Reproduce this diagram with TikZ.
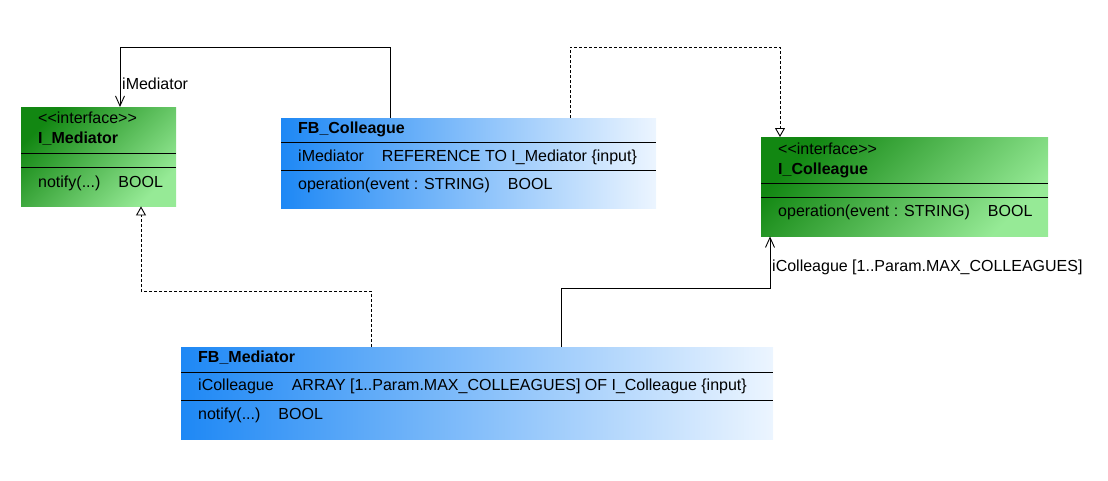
\documentclass[tikz,border=0pt]{standalone}
\usepackage{fontspec}
\setmainfont{Liberation Sans}
\usepackage{tikz}
\usetikzlibrary{calc,arrows.meta,positioning}

\definecolor{IfaceDark}{RGB}{18,135,18}
\definecolor{IfaceLight}{RGB}{150,234,150}
\definecolor{FbLeft}{RGB}{30,136,245}
\definecolor{FbRight}{RGB}{236,245,255}

\begin{document}
\begin{tikzpicture}[x=1pt,y=-1pt,font=\fontsize{16pt}{19pt}\selectfont]

  % Styles
  \tikzstyle{iface}=[anchor=north west,inner sep=0pt,left color=IfaceDark,right color=IfaceLight,shading angle=45]
  \tikzstyle{fb}=[anchor=north west,inner sep=0pt,left color=FbLeft,right color=FbRight]
  \tikzstyle{member}=[anchor=west,inner sep=0pt]
  \tikzstyle{sepline}=[line width=0.9pt]
  \tikzstyle{assoc}=[-{Straight Barb[length=10pt,width=9pt]},line width=0.9pt]
  \tikzstyle{realize}=[-{Triangle[open,length=9pt,width=10pt]},line width=0.9pt,dash pattern=on 3pt off 2pt]

  % \member{<id>}{<box>}{<offset>}{<text>}
  \newcommand{\member}[4]{\node[member] (#1) at ($(#2.north west)+(17,#3)$) {#4};}
  % \sepat{<box>}{<offset>}
  \newcommand{\sepat}[2]{\draw[sepline] ($(#1.north west)+(0,#2)$) -- ($(#1.north east)+(0,#2)$);}
  \newcommand{\tgap}{\hspace{18pt}}

  % ===========================================================================

  \useasboundingbox (0,0) rectangle (1108,480);

  % Draw boxes
  \node[iface,minimum width=155pt,minimum height=99pt] (imed) at (21,107) {};
  \node[fb,minimum width=375pt,minimum height=90pt] (fbcol) at (281,118) {};
  \node[iface,minimum width=287pt,minimum height=99pt] (icol) at (761,137) {};
  \node[fb,minimum width=592pt,minimum height=92pt] (fbmed) at (181,347) {};

  % Draw members
  \member{imedst}{imed}{11}{<{}<interface>{}>}
  \member{imedname}{imed}{32}{\bfseries I\_Mediator}
  \sepat{imed}{46}
  \sepat{imed}{60}
  \member{imedop}{imed}{76}{notify(...)\tgap BOOL}

  \member{fbcolname}{fbcol}{11}{\bfseries FB\_Colleague}
  \sepat{fbcol}{24}
  \member{fbcolvar}{fbcol}{39}{iMediator\tgap REFERENCE TO I\_Mediator \{input\}}
  \sepat{fbcol}{52}
  \member{fbcolop}{fbcol}{67}{operation(event : STRING)\tgap BOOL}

  \member{icolst}{icol}{12}{<{}<interface>{}>}
  \member{icolname}{icol}{33}{\bfseries I\_Colleague}
  \sepat{icol}{46}
  \sepat{icol}{60}
  \member{icolop}{icol}{75}{operation(event : STRING)\tgap BOOL}

  \member{fbmedname}{fbmed}{11}{\bfseries FB\_Mediator}
  \sepat{fbmed}{25}
  \member{fbmedvar}{fbmed}{39}{iColleague\tgap ARRAY [1..Param.MAX\_COLLEAGUES] OF I\_Colleague \{input\}}
  \sepat{fbmed}{53}
  \member{fbmedop}{fbmed}{68}{notify(...)\tgap BOOL}

  % Draw arrows
  \draw[assoc] ($(fbcol.north west)+(109,0)$) -- ++(0,-71) -| ($(imed.north west)+(99,0)$);
  \draw[realize] ($(fbcol.north west)+(289,0)$) -- ++(0,-71) -| ($(icol.north west)+(19,0)$);
  \draw[realize] ($(fbmed.north west)+(190,0)$) -- ++(0,-56) -| ($(imed.south west)+(120,0)$);
  \draw[assoc] ($(fbmed.north west)+(380,0)$) -- ++(0,-59) -| ($(icol.south west)+(9,0)$);

  % Labels
  \node[member] (lblmed) at ($(imed.north west)+(101,-23)$) {iMediator};
  \node[member] (lblcol) at ($(icol.south west)+(11,31)$) {iColleague [1..Param.MAX\_COLLEAGUES]};

\end{tikzpicture}
\end{document}
